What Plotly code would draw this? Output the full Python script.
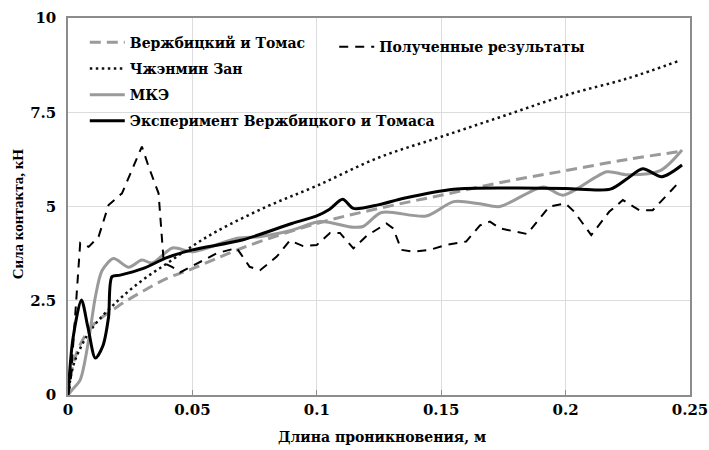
import plotly.graph_objects as go

# Вержбицкий и Томас (grey dashed)
vt_x = [0, 0.002, 0.005, 0.01, 0.02, 0.03, 0.04, 0.05, 0.07, 0.1, 0.125, 0.15, 0.175, 0.2, 0.225, 0.245]
vt_y = [0, 0.8, 1.35, 1.85, 2.35, 2.75, 3.1, 3.35, 3.9, 4.55, 4.95, 5.3, 5.65, 5.95, 6.25, 6.45]

# Чжэнмин Зан (black dotted)
zz_x = [0, 0.002, 0.005, 0.01, 0.02, 0.03, 0.04, 0.05, 0.06, 0.08, 0.1, 0.125, 0.15, 0.175, 0.2, 0.225, 0.245]
zz_y = [0, 0.75, 1.25, 1.8, 2.5, 3.05, 3.5, 3.95, 4.35, 5.0, 5.55, 6.3, 6.85, 7.4, 7.95, 8.4, 8.85]

# МКЭ (grey solid)
fem_x = [0, 0.0016, 0.0049, 0.0083, 0.011, 0.0137, 0.0183, 0.0244, 0.0297, 0.0338, 0.042, 0.05,
         0.068, 0.077, 0.09, 0.1013, 0.1147, 0.1186, 0.126, 0.144, 0.155, 0.1656, 0.1736, 0.191,
         0.199, 0.2166, 0.2247, 0.238, 0.2468]
fem_y = [0, 0.13, 0.4, 1.46, 2.6, 3.3, 3.62, 3.39, 3.58, 3.5, 3.9, 3.8,
         4.16, 4.2, 4.37, 4.6, 4.45, 4.47, 4.84, 4.75, 5.13, 5.07, 5.0, 5.52,
         5.3, 5.92, 5.84, 5.95, 6.5]

# Эксперимент Вержбицкого и Томаса (black solid)
exp_x = [0, 0.002, 0.0054, 0.008, 0.011, 0.014, 0.0163, 0.0177, 0.021, 0.03, 0.04, 0.05, 0.07,
         0.09, 0.1, 0.105, 0.1104, 0.1147, 0.125, 0.135, 0.155, 0.178, 0.2, 0.218, 0.225, 0.231,
         0.2387, 0.2468]
exp_y = [0, 1.5, 2.52, 1.8, 0.98, 1.3, 2.07, 3.14, 3.18, 3.35, 3.65, 3.85, 4.11,
         4.55, 4.75, 4.92, 5.19, 4.95, 5.05, 5.22, 5.46, 5.49, 5.48, 5.46, 5.75, 6.0,
         5.79, 6.1]

# Полученные результаты (black dashed)
res_x = [0, 0.001, 0.0049, 0.0083, 0.0123, 0.0163, 0.0217, 0.0297, 0.0324, 0.0364, 0.0385, 0.0418,
         0.045, 0.0543, 0.0598, 0.0678, 0.073, 0.0772, 0.0839, 0.0892, 0.0945, 0.1, 0.1053, 0.1093,
         0.1147, 0.12, 0.128, 0.1307, 0.134, 0.1388, 0.1455, 0.152, 0.16, 0.1656, 0.1696, 0.1736,
         0.18, 0.1845, 0.1935, 0.2, 0.2035, 0.2103, 0.2175, 0.223, 0.2297, 0.235, 0.2451]
res_y = [0, 0.3, 4.03, 3.93, 4.2, 5.04, 5.35, 6.59, 6.06, 5.35, 3.5, 3.4,
         3.25, 3.58, 3.76, 3.9, 3.4, 3.31, 3.67, 4.1, 3.95, 3.98, 4.3, 4.3,
         3.89, 4.22, 4.55, 4.42, 3.85, 3.8, 3.85, 3.98, 4.07, 4.5, 4.6, 4.42,
         4.33, 4.27, 5.0, 5.08, 4.86, 4.24, 4.86, 5.17, 4.9, 4.9, 5.61]

x_ticks = [0, 0.05, 0.1, 0.15, 0.2, 0.25]
x_ticktext = ["0", "0.05", "0.1", "0.15", "0.2", "0.25"]
y_ticks = [0, 2.5, 5, 7.5, 10]
y_ticktext = ["0", "2.5", "5", "7.5", "10"]

x_title = "Длина проникновения, м"
y_title = "Сила контакта, кН"

GREY = "#9a9a9a"
WIDE = "DejaVu Serif"
TIMES = "Liberation Serif"

fig = go.Figure()
fig.add_trace(go.Scatter(x=vt_x, y=vt_y, mode="lines", name="Вержбицкий и Томас",
                         legendgroup="a",
                         line=dict(color=GREY, width=3, dash="11px,6px", shape="spline"),
                         legend="legend"))
fig.add_trace(go.Scatter(x=zz_x, y=zz_y, mode="lines", name="Чжэнмин Зан",
                         legendgroup="b",
                         line=dict(color="#111111", width=2.5, dash="2.5px,3.5px", shape="spline"),
                         legend="legend"))
fig.add_trace(go.Scatter(x=fem_x, y=fem_y, mode="lines", name="МКЭ",
                         legendgroup="c",
                         line=dict(color=GREY, width=3, shape="spline", smoothing=0.8),
                         legend="legend"))
fig.add_trace(go.Scatter(x=exp_x, y=exp_y, mode="lines", name="Эксперимент Вержбицкого и Томаса",
                         legendgroup="d",
                         line=dict(color="#000000", width=3, shape="spline", smoothing=0.8),
                         legend="legend"))
fig.add_trace(go.Scatter(x=res_x, y=res_y, mode="lines", name="Полученные результаты",
                         line=dict(color="#000000", width=2, dash="9px,7px"),
                         legend="legend2"))

fig.update_layout(
    width=709, height=450,
    margin=dict(l=68, r=19, t=18, b=55, pad=0),
    paper_bgcolor="white", plot_bgcolor="white",
    font=dict(family=WIDE, size=14, color="#000000", weight="bold"),
    legend=dict(x=0.027, y=0.977, xanchor="left", yanchor="top", bgcolor="rgba(0,0,0,0)",
                font=dict(family=WIDE, size=14, weight="bold"), tracegroupgap=5,
                traceorder="grouped", itemwidth=35),
    legend2=dict(x=0.428, y=0.965, xanchor="left", yanchor="top", bgcolor="rgba(0,0,0,0)",
                 font=dict(family=WIDE, size=14, weight="bold"), itemwidth=35),
    xaxis=dict(range=[0, 0.25], tickvals=x_ticks, ticktext=x_ticktext,
               automargin=False,
               showgrid=True, gridcolor="#dcdcdc", gridwidth=1,
               showline=True, linecolor="#8c8c8c", linewidth=1.5, mirror=True,
               ticks="inside", ticklen=5, tickcolor="#8c8c8c",
               zeroline=False,
               tickfont=dict(family=WIDE, size=15, weight="bold")),
    yaxis=dict(range=[0, 10], tickvals=y_ticks, ticktext=y_ticktext,
               automargin=False, ticklabelstandoff=7,
               showgrid=True, gridcolor="#dcdcdc", gridwidth=1,
               showline=True, linecolor="#8c8c8c", linewidth=1.5, mirror=True,
               zeroline=False, ticks="",
               tickfont=dict(family=WIDE, size=15, weight="bold")),
    annotations=[
        dict(text=x_title, xref="paper", yref="paper", x=0.505, y=-0.111,
             xanchor="center", yanchor="middle", showarrow=False,
             font=dict(family=WIDE, size=14, weight="bold")),
        dict(text=y_title, xref="paper", yref="paper", x=-0.080, y=0.48,
             xanchor="center", yanchor="middle", showarrow=False, textangle=-90,
             font=dict(family=TIMES, size=15, weight="bold")),
    ],
)

fig.write_html("out.html")
